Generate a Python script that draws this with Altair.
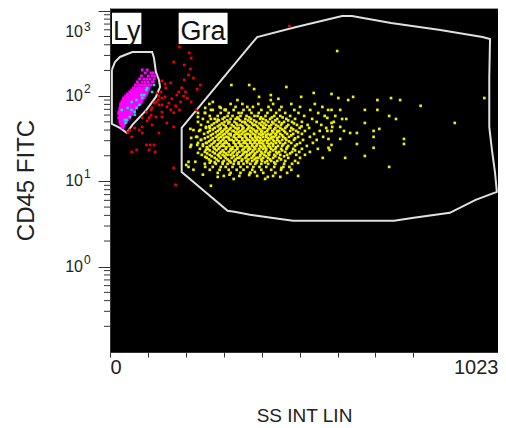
import altair as alt
import pandas as pd

FONT = "Liberation Sans"

# ---------------- axes ----------------
x_ticks = [0, 100, 200, 300, 400, 500, 600, 700, 800, 1023]
y_major = [1, 10, 100, 1000]
y_exps = ["0", "1", "2", "3"]
y_minor = [0.2, 0.3, 0.4, 0.5, 0.6, 0.7, 0.8, 0.9,
           2, 3, 4, 5, 6, 7, 8, 9,
           20, 30, 40, 50, 60, 70, 80, 90,
           200, 300, 400, 500, 600, 700, 800, 900]

# ---------------- gates ----------------
ly_gate_x = [5, 13, 26, 59, 111, 116, 121, 129, 132, 121, 96, 59, 44, 26, 5, 5]
ly_gate_y = [203, 251, 288, 329, 329, 280, 192, 155, 128, 98, 68.9, 46, 37.1, 42.4, 47.2, 203]

gra_gate_x = [375, 189, 189, 310, 328, 369, 444, 483, 749, 801, 896, 964, 1020, 1015,
              1007, 1000, 1000, 1002, 982, 871, 741, 638, 612, 491, 388, 375]
gra_gate_y = [420, 42.4, 12.9, 4.53, 4.41, 4.06, 3.65, 3.46, 3.46, 3.75, 4.29, 6.09, 7.55, 12.9,
              23.4, 43.6, 163, 468, 493, 596, 719, 869, 869, 646, 493, 420]

gate_names = ["Ly", "Gra"]
box_x0 = [5.2, 181]
box_x1 = [82.7, 310]
box_y0 = [408, 408]
box_y1 = [950, 950]

# ---------------- granulocytes (yellow) ----------------
gra_levels = [81, 74.8, 68.9, 63.5, 58.6, 54.1, 49.9, 46.0, 42.4, 39.1, 36.1, 33.3, 30.7,
              28.3, 26.1, 24.1, 22.2, 20.5, 18.9, 17.4, 16.1, 14.8, 13.7, 12.6, 11.6, 10.7]
gra_rows = [
    [262, 318, 349, 391, 430, 478, 540],
    [289, 331, 362, 377, 418, 452, 501, 560],
    [271, 305, 326, 352, 368, 399, 424, 447, 486, 528, 575],
    [250, 292, 313, 339, 347, 373, 392, 415, 438, 462, 497, 549],
    [263, 284, 310, 323, 344, 360, 381, 389, 410, 433, 449, 475, 512, 566],
    [245, 276, 297, 318, 331, 339, 357, 372, 396, 404, 422, 441, 465, 488, 533],
    [258, 281, 302, 315, 328, 349, 355, 370, 386, 401, 417, 428, 446, 459, 480, 506, 545, 590],
    [240, 268, 289, 300, 321, 336, 344, 362, 378, 383, 399, 412, 425, 438, 451, 470, 493, 521, 557],
    [253, 276, 292, 307, 318, 331, 339, 352, 365, 373, 391, 404, 409, 423, 436, 449, 462, 478, 500, 525, 570],
    [235, 263, 284, 297, 310, 323, 326, 344, 357, 370, 383, 388, 401, 414, 428, 441, 446, 459, 475, 491, 514, 553],
    [248, 271, 289, 302, 313, 318, 334, 347, 360, 365, 378, 393, 404, 417, 425, 436, 449, 467, 483, 506, 538],
    [227, 258, 279, 292, 305, 310, 326, 339, 344, 357, 370, 383, 391, 404, 412, 428, 433, 446, 457, 472, 496, 527, 562],
    [240, 266, 284, 297, 315, 321, 334, 349, 362, 367, 378, 388, 399, 409, 420, 430, 441, 454, 465, 485, 509, 545],
    [232, 255, 273, 289, 302, 308, 326, 339, 352, 357, 370, 381, 394, 399, 414, 425, 438, 449, 462, 478, 501, 535],
    [245, 263, 281, 294, 300, 315, 331, 344, 349, 362, 375, 386, 396, 407, 417, 430, 443, 454, 470, 488, 519],
    [237, 258, 276, 286, 305, 318, 323, 336, 352, 365, 370, 383, 393, 404, 412, 425, 436, 451, 465, 483, 506, 548],
    [250, 271, 292, 300, 313, 326, 341, 355, 360, 375, 388, 399, 409, 422, 438, 446, 462, 480, 499, 527],
    [242, 263, 284, 297, 310, 318, 334, 349, 362, 367, 380, 396, 407, 420, 433, 449, 467, 491, 514],
    [255, 276, 292, 305, 321, 336, 341, 357, 373, 386, 391, 404, 417, 430, 446, 470, 501],
    [266, 286, 300, 315, 328, 347, 360, 375, 388, 401, 414, 425, 441, 462, 488],
    [250, 279, 297, 310, 326, 339, 352, 370, 383, 399, 417, 436, 459, 480],
    [271, 292, 305, 323, 344, 362, 378, 394, 412, 433, 457],
    [263, 289, 313, 334, 352, 375, 399, 425, 451, 478],
    [284, 318, 344, 370, 404, 436, 467],
    [300, 341, 388, 430],
    [326, 409],
]
# in-between channels of the dense core
gra_levels2 = [56.3, 51.9, 47.9, 44.2, 40.7, 37.6, 34.7, 32.0,
               29.5, 27.2, 25.1, 23.1, 21.3, 19.7, 18.1, 16.7]
gra_rows2 = [
    [302, 336, 367, 398, 427, 455],
    [287, 309, 343, 364, 380, 411, 436, 470],
    [274, 295, 312, 333, 357, 375, 394, 407, 431, 454, 485],
    [262, 284, 305, 326, 349, 367, 388, 404, 420, 443, 466, 505],
    [271, 289, 302, 315, 336, 349, 362, 378, 396, 417, 433, 454, 483],
    [258, 279, 294, 307, 331, 339, 352, 373, 386, 399, 409, 430, 441, 462, 496],
    [266, 284, 297, 318, 328, 341, 355, 370, 383, 399, 412, 422, 438, 454, 478],
    [250, 271, 287, 300, 313, 331, 349, 360, 375, 386, 396, 417, 425, 441, 462, 488],
    [261, 276, 292, 305, 326, 341, 355, 370, 383, 393, 404, 415, 433, 446, 472],
    [245, 268, 284, 297, 313, 331, 344, 362, 375, 388, 404, 420, 430, 457, 493],
    [255, 273, 289, 307, 323, 336, 357, 367, 380, 399, 409, 422, 438, 467],
    [263, 281, 297, 318, 331, 349, 365, 378, 393, 412, 430, 454, 488],
    [256, 276, 289, 305, 323, 336, 352, 370, 383, 401, 417, 441, 475],
    [268, 287, 302, 326, 344, 360, 378, 396, 412, 436, 459],
    [261, 281, 310, 331, 349, 365, 381, 399, 422, 451],
    [276, 297, 318, 339, 362, 386, 409, 433],
]
gra_sparse_x = [599, 584, 602, 628, 641, 705, 741, 765, 819, 987,
                584, 607, 672, 705, 736, 754, 909, 573, 594, 612,
                623, 584, 672, 586, 607, 573, 584, 617, 633, 651,
                695, 710, 695, 775, 775, 576, 607, 584, 651, 695,
                576, 579, 620, 672, 736,
                367, 380, 465, 393, 424, 444, 424, 504, 537,
                369, 416, 449, 496, 452, 473, 496, 561,
                320, 336, 271, 292, 305, 266, 251, 232, 284, 232,
                220, 263, 214, 240, 212, 253, 232, 225, 207, 251,
                220, 284, 266, 367, 382,
                212, 214, 207, 201, 232, 251, 302, 266, 253, 238,
                230, 230, 253, 251, 263, 245, 315]
gra_sparse_y = [338, 106, 95, 90, 98, 90, 95, 90, 77, 95,
                69, 69, 69, 69, 58.6, 54, 48.5, 55.6, 58.6, 54,
                54, 48.5, 48.5, 43.6, 43.6, 39.1, 39.1, 39.1, 37, 37,
                39.1, 41.3, 33.3, 31.5, 27.5, 31.5, 31.5, 26.8, 27.5, 24.8,
                24.8, 23.4, 18.9, 19.9, 14.8,
                135, 121, 128, 98, 103, 93, 90, 98, 109,
                12.6, 11.3, 11.3, 11.6, 14.4, 14.8, 16.5, 18.9,
                135, 90, 85.5, 72.8, 69, 69, 63.6, 63.6, 53, 49.9,
                40, 42.5, 32.4, 30.7, 25.4, 28.3, 21.6, 17, 14.8, 14.8,
                13.7, 11.3, 8.9, 11.9, 12.9,
                41.3, 26.8, 17, 15.6, 57, 72.8, 69, 54, 43.6, 40.2,
                33.3, 26.8, 23.4, 19.4, 16.6, 12, 12]

# ---------------- lymphocytes (magenta) ----------------
ly_levels = [203, 187, 172.5, 159, 147, 135, 125, 118, 112, 106, 100.5, 95.3, 90.3, 85.5,
             81.1, 76.8, 72.8, 68.9, 65.3, 61.9, 58.6, 55.6, 52.6, 49.9, 47.2, 44.8, 42.4]
ly_rows = [
    [85, 98],
    [93, 108, 114],
    [83, 101, 111, 119],
    [78, 90, 98, 106, 116],
    [72, 85, 93, 101, 111, 114],
    [67, 75, 83, 90, 96, 104, 108],
    [62, 70, 77, 80, 88, 93, 98, 103],
    [57, 65, 70, 75, 80, 85, 90, 96, 101],
    [52, 59, 65, 67, 72, 77, 83, 88, 93, 98],
    [46, 54, 59, 62, 67, 72, 75, 80, 85, 90, 96],
    [41, 46, 52, 57, 62, 65, 70, 75, 77, 83, 88, 93],
    [36, 44, 49, 54, 57, 62, 67, 72, 77, 80, 85, 90],
    [34, 39, 44, 49, 52, 57, 62, 65, 70, 75, 80, 85],
    [31, 36, 41, 46, 49, 54, 59, 62, 67, 72, 77, 83],
    [28, 34, 39, 41, 46, 52, 57, 59, 65, 70, 75, 80],
    [28, 31, 36, 41, 44, 49, 54, 57, 62, 67, 72],
    [26, 31, 34, 39, 44, 46, 52, 57, 62, 65, 70],
    [26, 28, 34, 39, 41, 46, 52, 54, 59, 65],
    [23, 28, 31, 36, 41, 44, 49, 54, 59, 62],
    [23, 28, 34, 36, 41, 46, 52, 57],
    [26, 31, 34, 39, 44, 49, 54],
    [23, 28, 34, 39, 41, 46, 52],
    [26, 31, 36, 41, 46],
    [26, 31, 34, 39, 44],
    [28, 34, 39],
    [31, 36],
    [34],
]

# ---------------- cyan events ----------------
cyan_x = [41, 52, 57, 65, 70, 77.5, 85, 90, 98, 111, 116, 46.5, 57, 39, 65, 70, 83, 96, 44, 31]
cyan_y = [48.5, 57, 68.9, 65, 72.8, 78.9, 95, 103, 125, 112, 135, 72.8, 85.5, 52.6, 60.3, 90.3, 103, 118, 52.6, 68.9]

# ---------------- red (ungated) events ----------------
red_x = [183, 209, 214, 168, 196, 212, 137, 145, 147, 160, 189, 238, 230, 181, 199, 176, 194, 204,
         163, 214, 186, 155, 137, 124, 129, 116, 108, 137, 160, 173, 150, 168, 183, 96, 103, 85,
         150, 168, 129, 96, 106, 116, 103, 119, 168, 173, 227, 134, 129, 145, 127, 121, 137, 111,
         121, 108, 98, 85, 137, 77, 85, 111, 46.5, 52, 65, 57, 70, 57, 196, 220, 207, 473]
red_y = [377, 321, 280, 251, 232, 208, 151, 139, 125, 143, 125, 135, 121, 112, 112, 103, 100, 95,
         93, 85.5, 85.5, 83, 95, 109, 79, 83, 69, 65, 69, 77, 75, 64, 69, 65, 56, 56,
         48.5, 43.6, 37, 26.8, 26.8, 26.8, 23.4, 22.2, 14.4, 9.1, 69, 112, 100, 98, 90, 85.5, 79, 73,
         57, 60, 51, 43.6, 57, 40, 37, 46, 38, 40, 42.4, 33.3, 23.4, 22.2, 155, 163, 177, 664]


def rows_to_df(levels, rows):
    xs, ys = [], []
    for lv, row in zip(levels, rows):
        for xv in row:
            xs.append(xv)
            ys.append(lv)
    return pd.DataFrame({"x": xs, "y": ys})


gra_df = pd.concat([rows_to_df(gra_levels, gra_rows),
                    rows_to_df(gra_levels2, gra_rows2),
                    pd.DataFrame({"x": gra_sparse_x, "y": gra_sparse_y})])
ly_df = rows_to_df(ly_levels, ly_rows)
cyan_df = pd.DataFrame({"x": cyan_x, "y": cyan_y})
red_df = pd.DataFrame({"x": red_x, "y": red_y})

ly_gate_df = pd.DataFrame({"x": ly_gate_x, "y": ly_gate_y, "i": range(len(ly_gate_x))})
gra_gate_df = pd.DataFrame({"x": gra_gate_x, "y": gra_gate_y, "i": range(len(gra_gate_x))})
lab_df = pd.DataFrame({"name": gate_names, "x0": box_x0, "x1": box_x1, "y0": box_y0, "y1": box_y1})
ylab_df = pd.DataFrame({"v": y_major, "e": y_exps})
minor_df = pd.DataFrame({"v": y_minor})

x_scale = alt.Scale(domain=[0, 1023], nice=False, zero=False)
y_scale = alt.Scale(type="log", domain=[0.1, 1080], nice=False)

x_axis = alt.Axis(values=x_ticks, format="d",
                  labelExpr="datum.value == 0 || datum.value == 1023 ? datum.label : ''",
                  labelFlush=True, labelOverlap=False, grid=False,
                  tickSize=5, tickColor="#333333", domainColor="#333333",
                  labelFont=FONT, labelFontSize=20, labelColor="#222222",
                  labelBaseline="alphabetic", labelPadding=16,
                  title="SS INT LIN", titleFont=FONT, titleFontSize=19, titleFontWeight="normal",
                  titleColor="#222222", titleX=194, titleY=69, titleBaseline="alphabetic")
y_axis = alt.Axis(values=y_major, labels=False, grid=False, tickSize=12,
                  tickColor="#333333", domainColor="#333333",
                  title="CD45 FITC", titleFont=FONT, titleFontSize=24, titleFontWeight="normal",
                  titleColor="#222222", titleAngle=-90, titleX=-77, titleY=172,
                  titleBaseline="alphabetic", titleAlign="center")

X = lambda f: alt.X(f, scale=x_scale, axis=x_axis)
Y = lambda f: alt.Y(f, scale=y_scale, axis=y_axis)

gra_gate = alt.Chart(gra_gate_df).mark_line(color="#e0e0e0", strokeWidth=2, clip=True).encode(
    x=X("x:Q"), y=Y("y:Q"), order="i:Q")
ly_gate = alt.Chart(ly_gate_df).mark_line(color="#e0e0e0", strokeWidth=2).encode(
    x=X("x:Q"), y=Y("y:Q"), order="i:Q")


def dots(df, color, size):
    return alt.Chart(df).mark_square(size=size, color=color, opacity=1).encode(x=X("x:Q"), y=Y("y:Q"))


red_pts = dots(red_df, "#ee0000", 7)
gra_pts = dots(gra_df, "#f2f200", 7)
ly_pts = dots(ly_df, "#ff00ff", 8)
cyan_pts = dots(cyan_df, "#00e8f0", 6)

boxes = alt.Chart(lab_df).mark_rect(color="white").encode(
    x=X("x0:Q"), x2="x1:Q", y=Y("y0:Q"), y2="y1:Q")
box_text = alt.Chart(lab_df).transform_calculate(xc="(datum.x0 + datum.x1) / 2").mark_text(
    font=FONT, fontSize=27, baseline="alphabetic", align="center", dy=-4, color="#111111"
).encode(x=X("xc:Q"), y=Y("y0:Q"), text="name:N")

minor_ticks = alt.Chart(minor_df).mark_rule(color="#333333", strokeWidth=1).encode(
    y=Y("v:Q"), x=alt.value(-6), x2=alt.value(0))

ten_lo = alt.Chart(ylab_df).transform_filter("datum.v < 1000").mark_text(
    font=FONT, fontSize=16, align="right", baseline="alphabetic", dy=5, color="#222222"
).encode(y=Y("v:Q"), x=alt.value(-27), text=alt.value("10"))
exp_lo = alt.Chart(ylab_df).transform_filter("datum.v < 1000").mark_text(
    font=FONT, fontSize=12, align="left", baseline="alphabetic", dy=-3, color="#222222"
).encode(y=Y("v:Q"), x=alt.value(-26), text="e:N")
ten_hi = alt.Chart(ylab_df).transform_filter("datum.v >= 1000").mark_text(
    font=FONT, fontSize=16, align="right", baseline="alphabetic", dy=26, color="#222222"
).encode(y=Y("v:Q"), x=alt.value(-27), text=alt.value("10"))
exp_hi = alt.Chart(ylab_df).transform_filter("datum.v >= 1000").mark_text(
    font=FONT, fontSize=12, align="left", baseline="alphabetic", dy=20, color="#222222"
).encode(y=Y("v:Q"), x=alt.value(-26), text="e:N")

chart = alt.layer(
    gra_gate, ly_gate, red_pts, gra_pts, ly_pts, cyan_pts, boxes, box_text,
    minor_ticks, ten_lo, exp_lo, ten_hi, exp_hi
).properties(
    width=388, height=344,
    padding={"left": 102, "top": 0, "right": 0, "bottom": 75},
    autosize=alt.AutoSizeParams(type="none"),
    background="white",
).configure_view(fill="black", stroke="#9a9a9a", strokeWidth=1)

chart.save("out.html", embed_options={"renderer": "svg", "actions": False})
